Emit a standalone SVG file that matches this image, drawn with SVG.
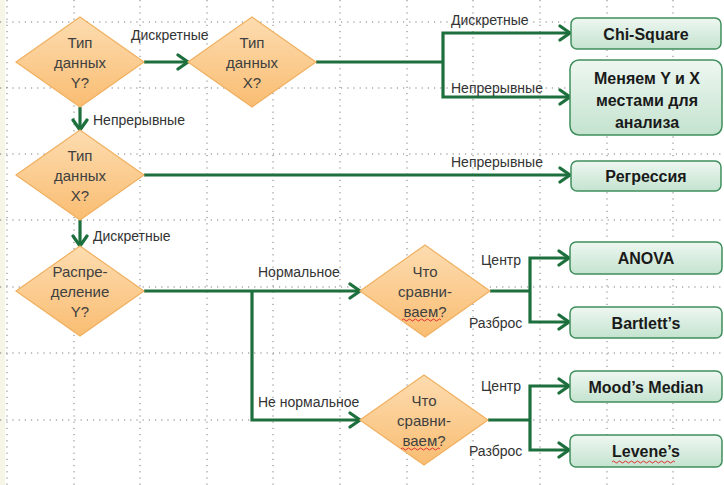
<svg xmlns="http://www.w3.org/2000/svg" width="724" height="485" viewBox="0 0 724 485">
<defs>
<linearGradient id="gOr" x1="0" y1="0" x2="0" y2="1">
<stop offset="0" stop-color="#fddcb0"/>
<stop offset="1" stop-color="#f9bd72"/>
</linearGradient>
<linearGradient id="gGr" x1="0" y1="0" x2="0" y2="1">
<stop offset="0" stop-color="#eef7f1"/>
<stop offset="1" stop-color="#c4e3cf"/>
</linearGradient>
<marker id="arr" markerUnits="userSpaceOnUse" markerWidth="16" markerHeight="18" refX="13" refY="9" orient="auto">
<path d="M3,2 L13,9 L3,16" fill="none" stroke="#1d6f3d" stroke-width="3.2" stroke-linecap="round" stroke-linejoin="miter"/>
</marker>
</defs>
<style>
.grid line{stroke:#7a7a7a;stroke-width:1;stroke-dasharray:1.2 5}
.dia{fill:url(#gOr);stroke:#f0b060;stroke-width:1.2}
.dt{font-family:"Liberation Sans",Arial,sans-serif;font-size:15px;fill:#404040;text-anchor:middle}
.box{fill:url(#gGr);stroke:#3f8f5c;stroke-width:1.5}
.bt{font-family:"Liberation Sans",Arial,sans-serif;font-size:16px;font-weight:bold;fill:#1a1a1a;text-anchor:middle}
.lb{font-family:"Liberation Sans",Arial,sans-serif;font-size:14px;fill:#333333}
.c{fill:none;stroke:#1d6f3d;stroke-width:3.2}
.ca{fill:none;stroke:#1d6f3d;stroke-width:3.2;marker-end:url(#arr)}
.sq{fill:none;stroke:#e03030;stroke-width:1}
</style>
<rect x="0" y="0" width="724" height="485" fill="#ffffff"/>
<rect x="0" y="0" width="5" height="485" fill="#f6f6e6"/>
<g class="grid">
<line x1="7" y1="0" x2="7" y2="485"/>
<line x1="74" y1="0" x2="74" y2="485"/>
<line x1="140" y1="0" x2="140" y2="485"/>
<line x1="207" y1="0" x2="207" y2="485"/>
<line x1="273" y1="0" x2="273" y2="485"/>
<line x1="340" y1="0" x2="340" y2="485"/>
<line x1="407" y1="0" x2="407" y2="485"/>
<line x1="473" y1="0" x2="473" y2="485"/>
<line x1="540" y1="0" x2="540" y2="485"/>
<line x1="607" y1="0" x2="607" y2="485"/>
<line x1="673" y1="0" x2="673" y2="485"/>
<line x1="0" y1="22" x2="724" y2="22"/>
<line x1="0" y1="88" x2="724" y2="88"/>
<line x1="0" y1="154" x2="724" y2="154"/>
<line x1="0" y1="220" x2="724" y2="220"/>
<line x1="0" y1="287" x2="724" y2="287"/>
<line x1="0" y1="353" x2="724" y2="353"/>
<line x1="0" y1="420" x2="724" y2="420"/>
</g>
<g id="connectors">
<path class="ca" d="M144,62 H188"/>
<path class="ca" d="M80,107 V130"/>
<path class="c" d="M316,62 H443"/>
<path class="ca" d="M443,62 V33 H570"/>
<path class="ca" d="M443,62 V97 H570"/>
<path class="ca" d="M144,175 H570"/>
<path class="ca" d="M80,220 V246"/>
<path class="ca" d="M144,291 H360"/>
<path class="ca" d="M252,291 V420 H360"/>
<path class="c" d="M490,291 H530"/>
<path class="ca" d="M530,291 V258 H569"/>
<path class="ca" d="M530,291 V322 H569"/>
<path class="c" d="M488,420 H530"/>
<path class="ca" d="M530,420 V386 H569"/>
<path class="ca" d="M530,420 V450 H569"/>
<text class="lb" x="131" y="40">Дискретные</text>
<text class="lb" x="93" y="125">Непрерывные</text>
<text class="lb" x="451" y="25">Дискретные</text>
<text class="lb" x="451" y="93">Непрерывные</text>
<text class="lb" x="451" y="167">Непрерывные</text>
<text class="lb" x="93" y="241">Дискретные</text>
<text class="lb" x="258" y="277">Нормальное</text>
<text class="lb" x="258" y="407">Не нормальное</text>
<text class="lb" x="481" y="265">Центр</text>
<text class="lb" x="469" y="328">Разброс</text>
<text class="lb" x="481" y="391">Центр</text>
<text class="lb" x="469" y="456">Разброс</text>
</g>
<g id="d1">
<polygon class="dia" points="80,17 144,62 80,107 16,62"/>
<text class="dt" x="80" y="48">Тип</text>
<text class="dt" x="80" y="68">данных</text>
<text class="dt" x="80" y="88">Y?</text>
</g>
<g id="d2">
<polygon class="dia" points="252,17 316,62 252,107 188,62"/>
<text class="dt" x="252" y="48">Тип</text>
<text class="dt" x="252" y="68">данных</text>
<text class="dt" x="252" y="88">X?</text>
</g>
<g id="d3">
<polygon class="dia" points="80,130 144,175 80,220 16,175"/>
<text class="dt" x="80" y="161">Тип</text>
<text class="dt" x="80" y="181">данных</text>
<text class="dt" x="80" y="201">X?</text>
</g>
<g id="d4">
<polygon class="dia" points="80,246 144,291 80,336 16,291"/>
<text class="dt" x="80" y="277">Распре-</text>
<text class="dt" x="80" y="297">деление</text>
<text class="dt" x="80" y="317">Y?</text>
</g>
<g id="d5">
<polygon class="dia" points="425,245 490,291 425,337 360,291"/>
<text class="dt" x="425" y="277">Что</text>
<text class="dt" x="425" y="297">сравни-</text>
<text class="dt" x="425" y="317">ваем?</text>
<path class="sq" d="M402,320 q1.5,-2 3,0 t3,0 t3,0 t3,0 t3,0 t3,0 t3,0 t3,0 t3,0 t3,0 t3,0 t3,0 t3,0"/>
</g>
<g id="d6">
<polygon class="dia" points="424,375 488,420 424,465 360,420"/>
<text class="dt" x="424" y="406">Что</text>
<text class="dt" x="424" y="426">сравни-</text>
<text class="dt" x="424" y="446">ваем?</text>
<path class="sq" d="M401,449 q1.5,-2 3,0 t3,0 t3,0 t3,0 t3,0 t3,0 t3,0 t3,0 t3,0 t3,0 t3,0 t3,0 t3,0"/>
</g>
<g id="b1">
<rect class="box" x="571" y="18" width="150" height="31" rx="6"/>
<text class="bt" x="646" y="39.5">Chi-Square</text>
</g>
<g id="b2">
<rect class="box" x="570" y="60" width="152" height="75" rx="9"/>
<text class="bt" x="647" y="84">Меняем Y и X</text>
<text class="bt" x="647" y="106">местами для</text>
<text class="bt" x="647" y="128">анализа</text>
</g>
<g id="b3">
<rect class="box" x="571" y="161" width="150" height="30" rx="6"/>
<text class="bt" x="646" y="182">Регрессия</text>
</g>
<g id="b4">
<rect class="box" x="570" y="242" width="152" height="32" rx="6"/>
<text class="bt" x="646" y="263.5">ANOVA</text>
</g>
<g id="b5">
<rect class="box" x="570" y="307" width="152" height="31" rx="6"/>
<text class="bt" x="646" y="328.5">Bartlett’s</text>
</g>
<g id="b6">
<rect class="box" x="570" y="371" width="152" height="31" rx="6"/>
<text class="bt" x="646" y="392.5">Mood’s Median</text>
</g>
<g id="b7">
<rect class="box" x="570" y="435" width="152" height="32" rx="6"/>
<text class="bt" x="646" y="456.5">Levene’s</text>
<path class="sq" d="M612,462 q1.5,-2 3,0 t3,0 t3,0 t3,0 t3,0 t3,0 t3,0 t3,0 t3,0 t3,0 t3,0 t3,0 t3,0 t3,0 t3,0 t3,0 t3,0 t3,0 t3,0 t3,0 t3,0"/>
</g>
</svg>
